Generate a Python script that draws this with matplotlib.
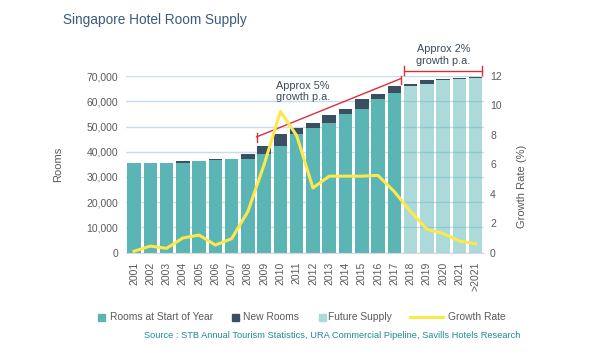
import numpy as np
import matplotlib
matplotlib.use('Agg')
import matplotlib.pyplot as plt
from matplotlib.patches import Rectangle
from matplotlib.lines import Line2D

plt.rcParams['font.family'] = ['Liberation Sans', 'DejaVu Sans']

# data
years = ['2001', '2002', '2003', '2004', '2005', '2006', '2007', '2008', '2009', '2010',
         '2011', '2012', '2013', '2014', '2015', '2016', '2017', '2018', '2019', '2020',
         '2021', '>2021']
rooms_start = [35400, 35500, 35650, 35700, 36450, 36750, 37000, 37300, 39100, 42400,
               47200, 49600, 51450, 54770, 56750, 60730, 63120, 66000, 66900, 68400,
               68700, 69250]
new_rooms = [0, 150, 0, 750, 0, 230, 240, 1800, 3170, 4700,
             2250, 1850, 3300, 1980, 3980, 2260, 2920, 700, 1350, 300,
             500, 250]
growth = [0.1, 0.45, 0.3, 1.0, 1.2, 0.52, 0.95, 2.8, 6.0, 9.6,
          7.95, 4.4, 5.2, 5.2, 5.2, 5.25, 4.15, 2.8, 1.6, 1.3,
          0.8, 0.6]
first_future = '2018'

teal = '#5bb5b4'
dark = '#3a4f60'
yellow = '#fde84c'
red = '#d8303a'
grey = '#5a5a5a'
grid_c = '#c7ddef'

x = np.arange(len(years))
fut = years.index(first_future)
is_future = x >= fut

fig = plt.figure(figsize=(6, 3.6), dpi=100)
ax = fig.add_axes([0.2098, 0.298, 0.5965, 0.4908])
ax2 = ax.twinx()

ax.set_axisbelow(True)
ax.yaxis.grid(True, color=grid_c, lw=1)
w = 0.83
start = np.array(rooms_start)
ax.bar(x[~is_future], start[~is_future], w, color=teal, zorder=2)
ax.bar(x[is_future], start[is_future], w, color=teal, alpha=0.5, zorder=2)
ax.bar(x, new_rooms, w, bottom=start, color=dark, zorder=2)

ax.set_xlim(-0.5, len(years) - 0.5)
ax.set_ylim(0, 70000)
ax.set_yticks(np.arange(0, 70001, 10000))
ax.set_yticklabels([f'{v:,}' for v in range(0, 70001, 10000)])
ax.set_xticks(x)
ax.set_xticklabels(years, rotation=90)
ax.tick_params(axis='y', length=0, pad=5.5, labelsize=7.5, labelcolor=grey)
ax.tick_params(axis='x', length=0, pad=6.5, labelsize=7.5, labelcolor=grey)
for s in ['top', 'left', 'right']:
    ax.spines[s].set_visible(False)
ax.spines['bottom'].set_color('#d9d9d9')
ax.set_ylabel('Rooms', fontsize=8, color=grey)
ax.yaxis.set_label_coords(-0.176, 0.5)

ax2.plot(x, growth, color=yellow, lw=2.2, solid_joinstyle='round', zorder=3)
ax2.set_ylim(0, 12)
ax2.set_yticks(range(0, 13, 2))
ax2.tick_params(axis='y', length=0, pad=4.5, labelsize=7.5, labelcolor=grey)
for s in ax2.spines.values():
    s.set_visible(False)
ax2.set_ylabel('Growth Rate (%)', fontsize=8, color=grey)
ax2.yaxis.set_label_coords(1.092, 0.373)

# red growth annotations
ax.plot([7.54, 16.41], [45900, 69000], color=red, lw=1, clip_on=False, zorder=4)
ax.plot([7.54, 7.54], [43900, 47600], color=red, lw=1, clip_on=False, zorder=4)
ax.plot([16.41, 16.41], [66800, 69900], color=red, lw=1, clip_on=False, zorder=4)
ax.plot([16.61, 21.37], [72100, 72100], color=red, lw=1, clip_on=False, zorder=4)
for xx in [16.61, 21.37]:
    ax.plot([xx, xx], [70400, 73800], color=red, lw=1, clip_on=False, zorder=4)
ax.text(10.39, 63800, 'Approx 5%\ngrowth p.a.', ha='center', va='center',
        fontsize=7.8, color='#3a4a5a', linespacing=1.2, zorder=5)
ax.text(19.02, 78300, 'Approx 2%\ngrowth p.a.', ha='center', va='center',
        fontsize=7.8, color='#3a4a5a', linespacing=1.2, clip_on=False)

fig.text(63 / 600, 1 - 20 / 360, 'Singapore Hotel Room Supply', fontsize=9.8,
         color='#3b5a7e', va='center', ha='left')

# legend drawn by hand
ly = 1 - 317 / 360
sq = 7 / 600
sqh = 7 / 360
items = [(98.3, teal, 'Rooms at Start of Year', 110),
         (231.7, dark, 'New Rooms', 243),
         (319, '#acdad9', 'Future Supply', 327.7)]
for px, c, lab, tx in items:
    fig.add_artist(Rectangle((px / 600, ly - sqh / 2), sq, sqh, color=c,
                             transform=fig.transFigure))
    fig.text(tx / 600, ly, lab, fontsize=7.4, color=grey, va='center', ha='left')
fig.add_artist(Line2D([410 / 600, 443 / 600], [ly, ly], color=yellow, lw=2.2,
                      transform=fig.transFigure))
fig.text(448 / 600, ly, 'Growth Rate', fontsize=7.4, color=grey, va='center', ha='left')

fig.text(520 / 600, 1 - 336 / 360,
         'Source : STB Annual Tourism Statistics, URA Commercial Pipeline, Savills Hotels Research',
         fontsize=6.7, color='#1e8a94', va='center', ha='right')

fig.savefig('out.png', dpi=100)
